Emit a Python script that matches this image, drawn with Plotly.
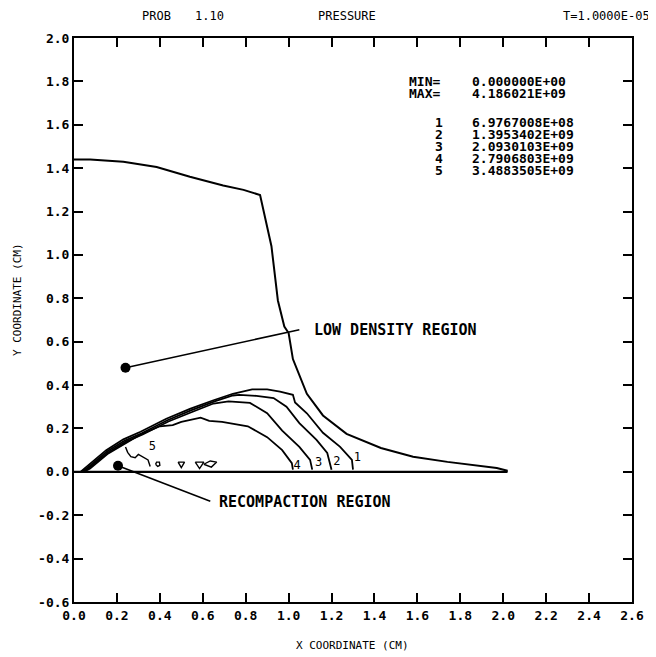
import plotly.graph_objects as go

# ---------------- data ----------------
x_ticks = [0.0, 0.2, 0.4, 0.6, 0.8, 1.0, 1.2, 1.4, 1.6, 1.8, 2.0, 2.2, 2.4, 2.6]
x_ticklabels = ["0.0", "0.2", "0.4", "0.6", "0.8", "1.0", "1.2", "1.4", "1.6", "1.8", "2.0", "2.2", "2.4", "2.6"]
y_ticks = [2.0, 1.8, 1.6, 1.4, 1.2, 1.0, 0.8, 0.6, 0.4, 0.2, 0.0, -0.2, -0.4, -0.6]
y_ticklabels = ["2.0", "1.8", "1.6", "1.4", "1.2", "1.0", "0.8", "0.6", "0.4", "0.2", "0.0", "-0.2", "-0.4", "-0.6"]

# outer (low density) boundary
outer_x = [0.0, 0.075, 0.23, 0.385, 0.54, 0.695, 0.79, 0.867, 0.92, 0.95, 0.98, 1.00, 1.02, 1.04,
           1.085, 1.16, 1.27, 1.43, 1.58, 1.74, 1.89, 1.97, 2.02, 2.0]
outer_y = [1.44, 1.44, 1.43, 1.405, 1.36, 1.32, 1.30, 1.276, 1.04, 0.79, 0.67, 0.64, 0.52, 0.47,
           0.36, 0.26, 0.175, 0.11, 0.07, 0.046, 0.028, 0.018, 0.005, 0.0]
base_x = [0.0, 2.02]
base_y = [0.0, 0.0]

# pressure contours
c1_x = [0.03, 0.06, 0.15, 0.23, 0.31, 0.43, 0.54, 0.65, 0.74, 0.83, 0.90, 0.96, 1.00, 1.02, 1.03,
        1.085, 1.16, 1.24, 1.295, 1.30]
c1_y = [0.0, 0.025, 0.10, 0.15, 0.185, 0.245, 0.29, 0.33, 0.36, 0.38, 0.38, 0.37, 0.36, 0.355, 0.32,
        0.27, 0.18, 0.115, 0.055, 0.01]
c2_x = [0.035, 0.065, 0.155, 0.235, 0.315, 0.435, 0.545, 0.655, 0.74, 0.77, 0.85, 0.93, 0.99,
        1.05, 1.13, 1.18, 1.20]
c2_y = [0.0, 0.02, 0.095, 0.143, 0.178, 0.238, 0.283, 0.325, 0.352, 0.355, 0.35, 0.34, 0.30,
        0.225, 0.147, 0.087, 0.01]
c3_x = [0.04, 0.07, 0.16, 0.24, 0.32, 0.44, 0.55, 0.65, 0.72, 0.77, 0.82, 0.90, 0.97, 1.05,
        1.10, 1.11]
c3_y = [0.0, 0.018, 0.09, 0.138, 0.172, 0.232, 0.276, 0.315, 0.325, 0.322, 0.318, 0.27, 0.19,
        0.115, 0.055, 0.01]
c4_x = [0.045, 0.075, 0.16, 0.24, 0.31, 0.40, 0.46, 0.50, 0.55, 0.59, 0.63, 0.69, 0.81, 0.90,
        0.97, 1.015, 1.02]
c4_y = [0.0, 0.015, 0.085, 0.13, 0.172, 0.21, 0.215, 0.23, 0.24, 0.25, 0.235, 0.23, 0.21, 0.16,
        0.10, 0.04, 0.01]
c5_x = [0.24, 0.25, 0.265, 0.285, 0.30, 0.32, 0.345, 0.355]
c5_y = [0.115, 0.09, 0.07, 0.065, 0.08, 0.07, 0.055, 0.025]
isl1_x = [0.38, 0.385, 0.398, 0.40, 0.39, 0.38]
isl1_y = [0.035, 0.045, 0.045, 0.03, 0.025, 0.035]
isl2_x = [0.485, 0.515, 0.50, 0.485]
isl2_y = [0.045, 0.045, 0.02, 0.045]
isl3_x = [0.565, 0.605, 0.585, 0.565]
isl3_y = [0.045, 0.045, 0.015, 0.045]
isl4_x = [0.605, 0.635, 0.665, 0.64, 0.605]
isl4_y = [0.035, 0.05, 0.045, 0.022, 0.035]

contour_label_x = [1.32, 1.225, 1.14, 1.04, 0.365]
contour_label_y = [0.065, 0.046, 0.04, 0.025, 0.115]
contour_labels = ["1", "2", "3", "4", "5"]

low_dot = (0.24, 0.48)
low_line_end = (1.05, 0.655)
rec_dot = (0.205, 0.028)
rec_line_end = (0.635, -0.135)

level_ids = ["1", "2", "3", "4", "5"]
level_vals = ["6.9767008E+08", "1.3953402E+09", "2.0930103E+09", "2.7906803E+09", "3.4883505E+09"]
level_y = [1.61, 1.555, 1.50, 1.445, 1.39]
min_val = "0.000000E+00"
max_val = "4.186021E+09"

# ---------------- figure ----------------
FONT = "DejaVu Sans Mono"
fig = go.Figure()

def line(x, y, w=1.6):
    fig.add_trace(go.Scatter(x=x, y=y, mode="lines", line=dict(color="black", width=w),
                             hoverinfo="skip", showlegend=False))

line(outer_x, outer_y, 2.0)
line(base_x, base_y, 2.2)
line(c1_x, c1_y, 1.8)
line(c2_x, c2_y, 1.8)
line(c3_x, c3_y, 1.8)
line(c4_x, c4_y, 1.8)
line(c5_x, c5_y, 1.4)
for ix, iy in [(isl1_x, isl1_y), (isl2_x, isl2_y), (isl3_x, isl3_y), (isl4_x, isl4_y)]:
    line(ix, iy, 1.4)

# pointer lines and dots
line([low_dot[0], low_line_end[0]], [low_dot[1], low_line_end[1]], 1.6)
line([rec_dot[0], rec_line_end[0]], [rec_dot[1], rec_line_end[1]], 1.6)
fig.add_trace(go.Scatter(x=[low_dot[0], rec_dot[0]], y=[low_dot[1], rec_dot[1]], mode="markers",
                         marker=dict(color="black", size=10), hoverinfo="skip", showlegend=False))

# contour labels
fig.add_trace(go.Scatter(x=contour_label_x, y=contour_label_y, mode="text", text=contour_labels,
                         textfont=dict(family=FONT, size=12, color="black"),
                         hoverinfo="skip", showlegend=False))

# plot frame in page pixels (page has an 8px body margin)
PL, PR, PT, PB = 74, 632, 38, 602
PW, PH = PR - PL, PB - PT

def px(x):
    return (x - PL) / PW

def py(y):
    return (PB - y) / PH

ann = []
bf = dict(family=FONT, size=15, color="black", weight="bold")
ann.append(dict(x=1.11, y=0.655, xref="x", yref="y", text="LOW DENSITY REGION", showarrow=False,
                xanchor="left", yanchor="middle", font=bf))
ann.append(dict(x=0.665, y=-0.14, xref="x", yref="y", text="RECOMPACTION REGION", showarrow=False,
                xanchor="left", yanchor="middle", font=bf))
tf = dict(family=FONT, size=13, color="black", weight="bold")
ann.append(dict(x=1.55, y=1.80, xref="x", yref="y", text="MIN=", showarrow=False, xanchor="left", font=tf))
ann.append(dict(x=1.55, y=1.745, xref="x", yref="y", text="MAX=", showarrow=False, xanchor="left", font=tf))
ann.append(dict(x=1.845, y=1.80, xref="x", yref="y", text=min_val, showarrow=False, xanchor="left", font=tf))
ann.append(dict(x=1.845, y=1.745, xref="x", yref="y", text=max_val, showarrow=False, xanchor="left", font=tf))
for lid, lv, ly in zip(level_ids, level_vals, level_y):
    ann.append(dict(x=1.70, y=ly, xref="x", yref="y", text=lid, showarrow=False, xanchor="center", font=tf))
    ann.append(dict(x=1.845, y=ly, xref="x", yref="y", text=lv, showarrow=False, xanchor="left", font=tf))

hf = dict(family=FONT, size=12, color="black")
ann += [
    dict(x=px(140), y=py(16), xref="paper", yref="paper", text="PROB", showarrow=False,
         xanchor="left", yanchor="middle", font=hf),
    dict(x=px(193), y=py(16), xref="paper", yref="paper", text="1.10", showarrow=False,
         xanchor="left", yanchor="middle", font=hf),
    dict(x=px(316), y=py(16), xref="paper", yref="paper", text="PRESSURE", showarrow=False,
         xanchor="left", yanchor="middle", font=hf),
    dict(x=px(652), y=py(16), xref="paper", yref="paper", text="T=1.0000E-05", showarrow=False,
         xanchor="right", yanchor="middle", font=hf),
    dict(x=px(352), y=py(645), xref="paper", yref="paper", text="X COORDINATE (CM)",
         showarrow=False, xanchor="center", yanchor="middle", font=dict(family=FONT, size=11, color="black")),
    dict(x=px(18), y=py(300), xref="paper", yref="paper", text="Y COORDINATE (CM)",
         showarrow=False, xanchor="center", yanchor="middle", textangle=-90,
         font=dict(family=FONT, size=11, color="black")),
]

axis_common = dict(showgrid=False, zeroline=False, showline=True, linecolor="black", linewidth=2,
                   ticks="inside", ticklen=9, tickwidth=1.6, tickcolor="black", mirror="ticks",
                   tickfont=dict(family=FONT, size=13, color="black", weight="bold"))

FW, FH = 648, 649  # figure size; offset 8px by the page's body margin
fig.update_layout(
    width=FW, height=FH,
    margin=dict(l=PL - 8, r=FW - (PR - 8), t=PT - 8, b=FH - (PB - 8)),
    paper_bgcolor="white", plot_bgcolor="white",
    xaxis=dict(range=[0, 2.6], tickvals=x_ticks, ticktext=x_ticklabels, **axis_common),
    yaxis=dict(range=[-0.6, 2.0], tickvals=y_ticks, ticktext=y_ticklabels, **axis_common),
    annotations=ann,
    showlegend=False,
)

fig.write_html("out.html")
